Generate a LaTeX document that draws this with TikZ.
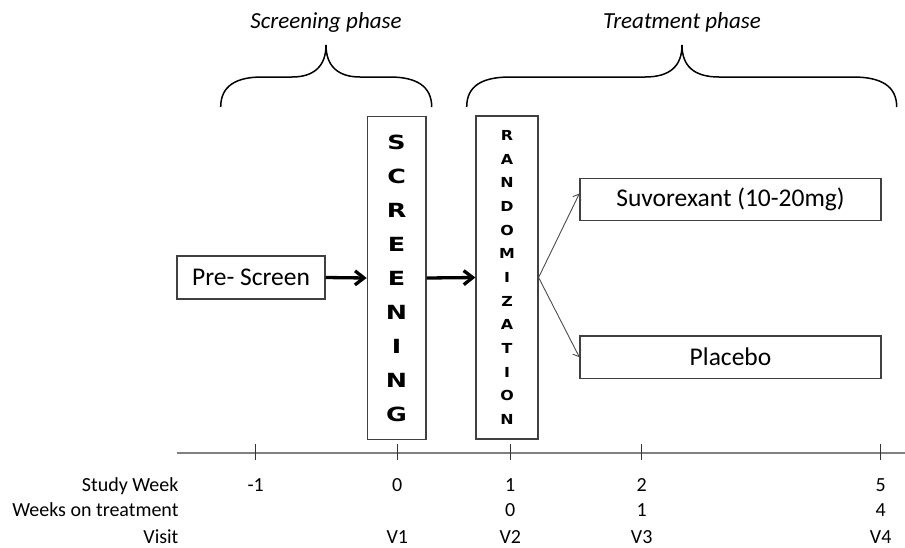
\documentclass[tikz,border=0pt]{standalone}
\usepackage{fontspec}
\setmainfont{Carlito}
\newfontfamily\screenletters{DejaVu Sans Bold}[FakeStretch=1.3]
\newfontfamily\randletters{DejaVu Sans Bold}[FakeStretch=1.15]
\usetikzlibrary{arrows.meta}
\tikzset{
    plain-box/.style = {draw=black!75, line width=1.2pt, rectangle, inner sep=0pt, font=\fontsize{25.5}{30}\selectfont},
    letter-box/.style = {draw=black!75, line width=1.2pt, rectangle, align=center, inner sep=0pt},
    thick-arrow/.style = {line width=3.3pt, -{Straight Barb[length=9pt,width=14pt]}},
    thin-arrow/.style = {draw=black!70, line width=0.9pt, -{Straight Barb[length=5pt,width=9pt]}},
    phase-title/.style = {font=\fontsize{23}{28}\selectfont\itshape, anchor=base},
    brace-line/.style = {line width=1.5pt},
    axis-text/.style = {font=\fontsize{20}{24}\selectfont, anchor=base},
}

\begin{document}
\begin{tikzpicture}[x=1pt, y=-1pt]
\useasboundingbox (0,0) rectangle (905,547);

% phases
\node[phase-title] (screen-title) at (326,28.5) {Screening phase};
\node[phase-title] (treat-title) at (682,28.5) {Treatment phase};
\draw[brace-line] (220.7,107) .. controls (220.7,86) and (236,77) .. (262,77) -- (292,77)
    .. controls (314,77) and (326,66) .. (326,45) .. controls (326,66) and (338,77) .. (360,77)
    -- (390,77) .. controls (416,77) and (431.7,86) .. (431.7,107);
\draw[brace-line] (466.7,107) .. controls (466.7,86) and (482,77) .. (510,77) -- (645,77)
    .. controls (670,77) and (682,66) .. (682,45) .. controls (682,66) and (694,77) .. (719,77)
    -- (853,77) .. controls (881,77) and (896.7,86) .. (896.7,107);

% flow
\node[plain-box, minimum width=148pt, minimum height=43pt] (pre) at (251,277.5) {Pre- Screen};
\node[letter-box, minimum width=58.7pt, minimum height=322.6pt,
      font=\screenletters\fontsize{19.5}{34}\selectfont] (scr) at (396.6,278)
      {S\\C\\R\\E\\E\\N\\I\\N\\G};
\node[letter-box, minimum width=62pt, minimum height=323pt,
      font=\randletters\fontsize{13.8}{23.67}\selectfont] (rand) at (507,277.5)
      {R\\A\\N\\D\\O\\M\\I\\Z\\A\\T\\I\\O\\N};
\node[plain-box, minimum width=301pt, minimum height=42.4pt] (drug) at (730.5,199.5) {Suvorexant (10-20mg)};
\node[plain-box, minimum width=301pt, minimum height=42.4pt] (plac) at (730.5,357.2) {Placebo};

\draw[thick-arrow] (pre.east) -- (scr.west);
\draw[thick-arrow] (scr.east) -- (rand.west);
\draw[thin-arrow] (rand.east) -- ([yshift=6pt]drug.west);
\draw[thin-arrow] (rand.east) -- (plac.west);

% time line
\coordinate (axis-start) at (176.7,452.7);
\coordinate (axis-end) at (905,452.7);
\draw[line width=2pt, black!50] (axis-start) -- (axis-end);
\node[axis-text, anchor=base east] (row-week) at (182,491) {Study Week};
\node[axis-text, anchor=base east] (row-treat) at (182,516.5) {Weeks on treatment};
\node[axis-text, anchor=base east] (row-visit) at (182,543) {Visit};
\foreach \x/\wk/\tr/\vis in {255.7/-1/{}/{}, 397.3/0/{}/V1, 510.3/1/0/V2, 641.7/2/1/V3, 880.7/5/4/V4}{
    \draw[black!80, line width=1pt] (\x,444) -- (\x,460);
    \node[axis-text] at (\x,491) {\wk};
    \node[axis-text] at (\x,516.5) {\tr};
    \node[axis-text] at (\x,543) {\vis};
}
\end{tikzpicture}
\end{document}
